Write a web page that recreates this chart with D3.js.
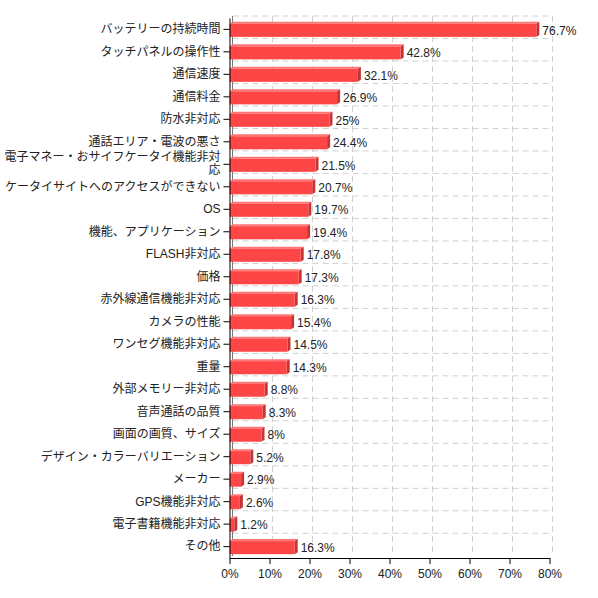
<!DOCTYPE html>
<html>
<head>
<meta charset="utf-8">
<script src="https://cdn.jsdelivr.net/npm/d3@7"></script>
<style>
  body { margin: 0; background: #fff; }
  text { font-family: "Liberation Sans", "Noto Sans CJK JP", sans-serif; }
</style>
</head>
<body>
<svg id="chart"></svg>
<script>
// values (percent)
const categories = [
  "バッテリーの持続時間", "タッチパネルの操作性", "通信速度", "通信料金", "防水非対応",
  "通話エリア・電波の悪さ", "電子マネー・おサイフケータイ機能非対応", "ケータイサイトへのアクセスができない",
  "OS", "機能、アプリケーション", "FLASH非対応", "価格", "赤外線通信機能非対応", "カメラの性能",
  "ワンセグ機能非対応", "重量", "外部メモリー非対応", "音声通話の品質", "画面の画質、サイズ",
  "デザイン・カラーバリエーション", "メーカー", "GPS機能非対応", "電子書籍機能非対応", "その他"
];
const values = [76.7, 42.8, 32.1, 26.9, 25, 24.4, 21.5, 20.7, 19.7, 19.4, 17.8, 17.3, 16.3, 15.4,
  14.5, 14.3, 8.8, 8.3, 8, 5.2, 2.9, 2.6, 1.2, 16.3];
const xTicks = [0, 10, 20, 30, 40, 50, 60, 70, 80];

const data = categories.map((c, i) => ({ name: c, value: values[i] }));

const width = 598, height = 598;
const dx = 3, dy = 2; // depth of the 3d effect

const svg = d3.select("#chart")
  .attr("width", width)
  .attr("height", height);

const x = d3.scaleLinear().domain([0, 80]).range([229.5, 549.5]);
const y = d3.scaleBand().domain(categories).range([18, 558]).paddingInner(0.33).paddingOuter(0.17);
const step = y.step();

// grid (pushed back by the depth)
const grid = svg.append("g").attr("stroke", "#d0d0d0").attr("stroke-dasharray", "6,4");
grid.selectAll("line.v")
  .data(xTicks.slice(1))
  .join("line")
  .attr("x1", d => x(d) + dx).attr("x2", d => x(d) + dx)
  .attr("y1", 18 - dy).attr("y2", 558 - dy);
grid.selectAll("line.h")
  .data(d3.range(categories.length))
  .join("line")
  .attr("x1", x(0) + dx).attr("x2", x(80) + dx)
  .attr("y1", i => 18 + i * step - dy).attr("y2", i => 18 + i * step - dy);

// back wall
svg.append("line")
  .attr("x1", x(0) + dx).attr("x2", x(0) + dx)
  .attr("y1", 18 - dy).attr("y2", 558 - dy)
  .attr("stroke", "#777");

// bars
const bh = y.bandwidth() - dy;
const bars = svg.append("g").selectAll("g").data(data).join("g");

bars.append("path") // top face
  .attr("fill", "#ff7474")
  .attr("d", d => {
    const x0 = x(0), x1 = x(d.value), t = y(d.name) + dy;
    return `M${x0},${t}L${x0 + dx},${t - dy}L${x1 + dx},${t - dy}L${x1},${t}Z`;
  });
bars.append("path") // right face
  .attr("fill", "#c43535")
  .attr("d", d => {
    const x1 = x(d.value), t = y(d.name) + dy;
    return `M${x1},${t}L${x1 + dx},${t - dy}L${x1 + dx},${t + bh - dy}L${x1},${t + bh}Z`;
  });
bars.append("rect") // front face
  .attr("fill", "#ff4646")
  .attr("x", x(0))
  .attr("y", d => y(d.name) + dy)
  .attr("width", d => x(d.value) - x(0))
  .attr("height", bh);

bars.append("text")
  .attr("x", d => x(d.value) + dx + 3)
  .attr("y", d => y(d.name) + dy + bh / 2)
  .attr("dy", "0.35em")
  .attr("font-size", 12)
  .attr("fill", "#222")
  .text(d => d.value + "%");

// axes
const yAxis = svg.append("g")
  .attr("transform", `translate(${x(0)},0)`)
  .call(d3.axisLeft(y).tickSize(6).tickSizeOuter(0));
yAxis.selectAll("text").attr("font-size", 12).attr("fill", "#222")
  .each(function () { wrap(d3.select(this), 222); });
yAxis.select(".domain").attr("stroke", "#000");

const xAxis = svg.append("g")
  .attr("transform", `translate(0,558)`)
  .call(d3.axisBottom(x).tickValues(xTicks).tickFormat(d => d + "%").tickSize(6).tickSizeOuter(0));
xAxis.selectAll("text").attr("font-size", 12).attr("fill", "#222").attr("dy", "0.9em");
xAxis.select(".domain").attr("stroke", "#000");

svg.selectAll(".tick line").attr("stroke", "#000");
svg.selectAll(".tick text, text").attr("font-family", null);

// wrap long category names character by character
function wrap(text, maxW) {
  const full = text.text();
  if (text.node().getComputedTextLength() <= maxW) return;
  const lines = [];
  let cur = "";
  for (const ch of full) {
    text.text(cur + ch);
    if (text.node().getComputedTextLength() > maxW && cur) {
      lines.push(cur);
      cur = ch;
    } else {
      cur += ch;
    }
  }
  lines.push(cur);
  const xx = text.attr("x");
  text.text(null);
  const lh = 13;
  lines.forEach((l, i) => {
    text.append("tspan")
      .attr("x", xx)
      .attr("y", i === 0 ? -(lines.length - 1) * lh / 2 - 1 : null)
      .attr("dy", i === 0 ? "0.32em" : lh + "px")
      .text(l);
  });
  text.attr("dy", null);
}
</script>
</body>
</html>
